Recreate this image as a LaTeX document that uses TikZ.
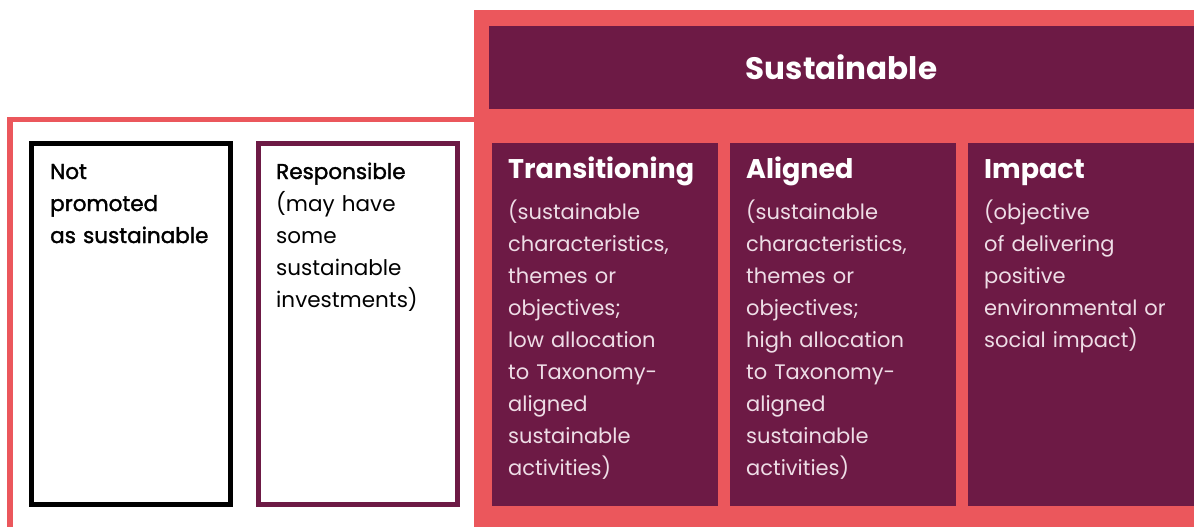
\documentclass[tikz,border=0pt]{standalone}
\usepackage{fontspec}
\setmainfont{Poppins}
\newfontfamily\medfont[FakeBold=1.6]{Poppins}
\usetikzlibrary{positioning}
\definecolor{coral}{HTML}{EB575C}
\definecolor{plum}{HTML}{6D1A45}
\definecolor{blush}{HTML}{EEDDE6}

\tikzset{
  panel/.style={fill=plum, anchor=north west, inner sep=0pt, outer sep=0pt,
    minimum width=226pt, minimum height=363pt},
  framebox/.style={draw=#1, line width=5pt, anchor=north west, inner sep=0pt, outer sep=0pt,
    minimum width=199pt, minimum height=361pt},
  blurb/.style={anchor=base west, inner sep=0pt, align=left, text width=200pt,
    font=\fontsize{21}{32}\selectfont},
}

\begin{document}
\begin{tikzpicture}[x=1pt, y=-1pt]
  \useasboundingbox (0,0) rectangle (1194,527);
  % left frame and the sustainable block
  \draw [coral, line width=5.5pt] (10,540) -- (10,119.5) -- (480,119.5);
  \fill [coral] (474,10) rectangle (1194,527);
  \node [panel, minimum width=705pt, minimum height=83pt] (head) at (489,26) {};
  \node [text=white, font=\bfseries\fontsize{31}{36}\selectfont] (headtxt) at (head.center) {Sustainable};
  % not sustainable
  \node [framebox=black] (notbox) at (31.5,143.5) {};
  \node [blurb, text=black, font=\medfont\fontsize{21.5}{32}\selectfont] (nottxt)
    at ([xshift=18.5pt, yshift=-35.5pt]notbox.north west) {Not\\promoted\\as sustainable};
  \node [framebox=plum] (respbox) at (258.5,143.5) {};
  \node [blurb, text=black, font=\fontsize{21.5}{32}\selectfont] (resptxt)
    at ([xshift=17.5pt, yshift=-35.5pt]respbox.north west)
    {{\medfont Responsible}\\(may have\\some\\sustainable\\investments)};
  % the three sustainable kinds
  \foreach \name/\x/\title/\body in {
    trans/492/Transitioning/{(sustainable\\characteristics,\\themes or\\objectives;\\low allocation\\to Taxonomy-\\aligned\\sustainable\\activities)},
    align/730/Aligned/{(sustainable\\characteristics,\\themes or\\objectives;\\high allocation\\to Taxonomy-\\aligned\\sustainable\\activities)},
    impact/968/Impact/{(objective\\of delivering\\positive\\environmental or\\social impact)}
  }{
    \node [panel] (\name) at (\x,143) {};
    \node [blurb, text=white, font=\bfseries\fontsize{27}{32}\selectfont] (\name title)
      at ([xshift=16pt, yshift=-35pt]\name.north west) {\title};
    \node [blurb, text=blush] (\name txt) at ([yshift=-41pt]\name title.base west) {\body};
  }
\end{tikzpicture}
\end{document}
